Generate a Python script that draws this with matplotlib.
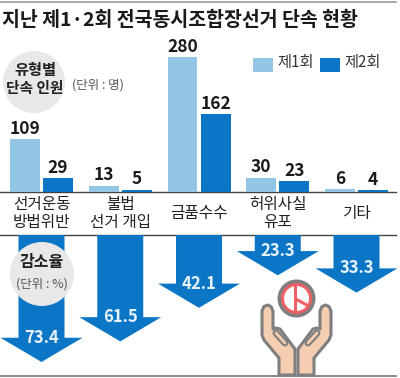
import numpy as np
import matplotlib
matplotlib.use('Agg')
import matplotlib.pyplot as plt
from matplotlib.patches import Polygon, Circle, Rectangle

plt.rcParams['font.family'] = ['Noto Sans CJK KR', 'DejaVu Sans']

# Data
categories = ['선거운동\n방법위반', '불법\n선거 개입', '금품수수', '허위사실\n유포', '기타']
first = [109, 13, 280, 30, 6]
second = [29, 5, 162, 23, 4]
decrease = [73.4, 61.5, 42.1, 23.3, 33.3]
series_names = ['제1회', '제2회']

LIGHT = '#92c6e4'
DARK = '#0b76c5'
GRAY = '#7f7f7f'
W, H = 400, 378


def rect_px(x0, y0, x1, y1):
    return [x0 / W, 1 - y1 / H, (x1 - x0) / W, (y1 - y0) / H]


fig = plt.figure(figsize=(4, 3.78), dpi=100, facecolor='white')

# overlay in pixel coords for lines, badges, icon
bg = fig.add_axes([0, 0, 1, 1], zorder=0)
bg.set_xlim(0, W)
bg.set_ylim(H, 0)
bg.axis('off')

x = np.arange(len(categories))
xlim = (-0.527, -0.527 + W / 78.75)

# bars
ax = fig.add_axes(rect_px(0, 40, W, 192), zorder=1)
ax.patch.set_alpha(0)
ax.axis('off')
ax.set_xlim(*xlim)
ax.set_ylim(0, 152 / 0.482)
ax.bar(x - 0.21, first, 0.38, color=LIGHT)
ax.bar(x + 0.21, second, 0.38, color=DARK)
for i in x:
    ax.annotate(str(first[i]), (i - 0.21, first[i]), xytext=(0, 1), textcoords='offset points',
                ha='center', va='bottom', fontsize=12.5, fontweight='bold', color='#1a1a1a')
    ax.annotate(str(second[i]), (i + 0.21, second[i]), xytext=(0, 1), textcoords='offset points',
                ha='center', va='bottom', fontsize=12.5, fontweight='bold', color='#1a1a1a')

# arrows, length follows the value
ax2 = fig.add_axes(rect_px(0, 235, W, 378), zorder=1)
ax2.patch.set_alpha(0)
ax2.axis('off')
ax2.set_xlim(*xlim)
ax2.set_ylim(143 / 1.73, 0)
shaft = 0.292
wing = 0.52
head = 14
for i, v in zip(x, decrease):
    pts = [(i - shaft, 0), (i + shaft, 0), (i + shaft, v - head), (i + wing, v - head),
           (i, v), (i - wing, v - head), (i - shaft, v - head)]
    ax2.add_patch(Polygon(pts, closed=True, color=DARK, lw=0))
    ax2.text(i, v - head, f'{v}', ha='center', va='center', color='#e8f3fb',
             fontsize=12, fontweight='bold')

# rules
bg.plot([0, 396], [1.5, 1.5], color='#9a9a9a', lw=1.2)
bg.plot([0, 396], [192, 192], color='#444444', lw=1)
bg.plot([0, 396], [235, 235], color='#444444', lw=1)
bg.plot([0, 396], [376, 376], color='#777777', lw=1.2)

# title
fig.text(2 / W, 1 - 20 / H, '지난 제1·2회 전국동시조합장선거 단속 현황', fontsize=14,
         fontweight='bold', color='#1a1a1a', va='center', ha='left')

# category labels
for i, c in zip(x, categories):
    bg.text(41.5 + i * 78.75, 213.5, c, ha='center', va='center', fontsize=11.3,
            linespacing=1.0, color='#222222')

# badges drawn above the arrows
top = fig.add_axes([0, 0, 1, 1], zorder=3)
top.set_xlim(0, W)
top.set_ylim(H, 0)
top.axis('off')
top.patch.set_alpha(0)
top.add_patch(Circle((34, 82), 31, color='#e8e8e8', lw=0))
top.text(35, 70, '유형별', ha='center', va='center', fontsize=11, fontweight='bold', color='#222222')
top.text(35, 88, '단속 인원', ha='center', va='center', fontsize=10.6, fontweight='bold', color='#222222')
top.text(98, 85, '(단위 : 명)', ha='center', va='center', fontsize=9, color='#555555')
top.add_patch(Circle((42, 274), 32, color='#e8e8e8', lw=0))
top.text(42, 262, '감소율', ha='center', va='center', fontsize=11.5, fontweight='bold', color='#222222')
top.text(42, 284, '(단위 : %)', ha='center', va='center', fontsize=9, color='#555555')

# legend
top.add_patch(Rectangle((253, 57.5), 20, 14, color=LIGHT, lw=0))
top.text(277, 62.5, series_names[0], ha='left', va='center', fontsize=11, color='#333333')
top.add_patch(Rectangle((320, 57.5), 20, 14, color=DARK, lw=0))
top.text(344, 62.5, series_names[1], ha='left', va='center', fontsize=11, color='#333333')

# ballot mark
cx, cy = 296.5, 298.5
top.add_patch(Circle((cx, cy), 19, color=GRAY, lw=0))
top.add_patch(Circle((cx, cy), 15.5, color='#ee5f66', lw=0))
top.add_patch(Circle((cx, cy), 12.5, color='white', lw=0))
top.plot([cx - 1.5, cx - 1.5], [cy - 14, cy + 14], color='#ee5f66', lw=2.2, solid_capstyle='butt')
top.plot([cx - 1.5, cx + 11], [cy, cy + 7], color='#ee5f66', lw=2.2, solid_capstyle='butt')

# hands
SKIN = '#f5cdb0'
hand = [(295, 375), (279, 375), (279, 358), (264, 340), (262, 335), (262, 311), (264, 306.5),
        (267.5, 305), (271, 306.5), (273, 311), (273, 329), (276, 328), (280, 329), (295, 349)]
for sign in (1, -1):
    pts = [(296.5 + sign * (px - 296.5), py) for px, py in hand]
    top.add_patch(Polygon(pts, closed=True, fc=SKIN, ec=GRAY, lw=2.2, joinstyle='round'))
    slot_x = [296.5 + sign * (276 - 296.5), 296.5 + sign * (285 - 296.5)]
    top.plot(slot_x, [333, 343], color=GRAY, lw=5, solid_capstyle='round')
    top.plot(slot_x, [333, 343], color=SKIN, lw=2, solid_capstyle='round')

plt.savefig('out.png', dpi=100)
